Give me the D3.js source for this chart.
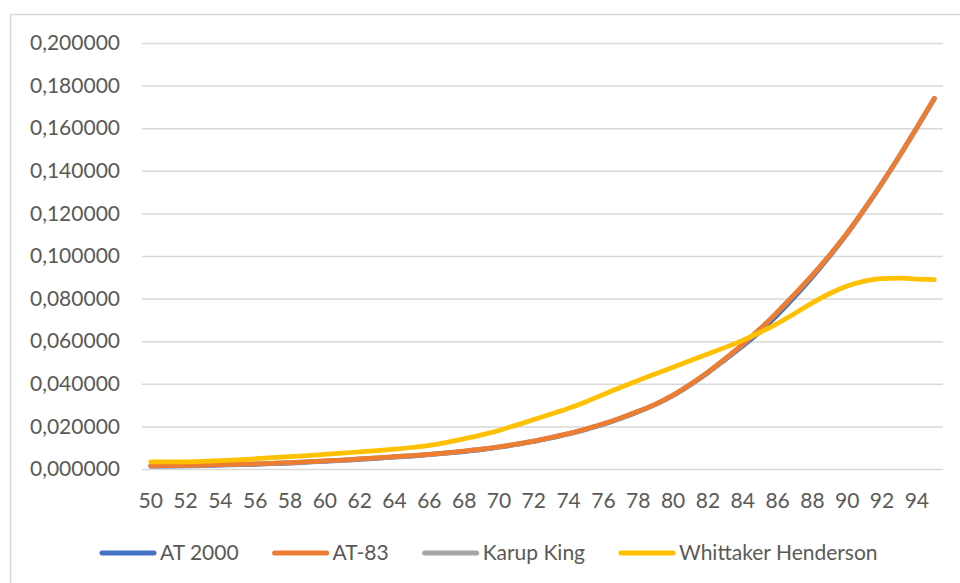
<!DOCTYPE html>
<html>
<head>
<meta charset="utf-8">
<script src="https://cdn.jsdelivr.net/npm/d3@7"></script>
<style>
  html, body { margin: 0; padding: 0; background: #fff; }
  svg { display: block; }
  text { font-family: Lato, "Open Sans", sans-serif; fill: #595959; }
</style>
</head>
<body>
<svg id="chart" width="960" height="583"></svg>
<script>
// Ages on the category axis
const ages = [50,51,52,53,54,55,56,57,58,59,60,61,62,63,64,65,66,67,68,69,70,71,72,73,74,75,76,77,78,79,80,81,82,83,84,85,86,87,88,89,90,91,92,93,94,95];

// Mortality rates q(x) per table
const at2000 = [0.0013,0.0014,0.0015,0.0016,0.0018,0.0020,0.0022,0.0025,0.0028,0.0032,0.0036,0.0040,0.0045,0.0050,0.0056,0.0061,0.0067,0.0074,0.0082,0.0091,0.0102,0.0115,0.0129,0.0146,0.0164,0.0186,0.0210,0.0238,0.0269,0.0303,0.0345,0.0396,0.0452,0.0514,0.0578,0.0646,0.0724,0.0810,0.0902,0.1000,0.1105,0.1220,0.1341,0.1469,0.1602,0.1738];
const at83 = [0.0015,0.0016,0.0017,0.0018,0.0020,0.0022,0.0024,0.0027,0.0030,0.0034,0.0038,0.0042,0.0047,0.0052,0.0058,0.0063,0.0069,0.0076,0.0084,0.0093,0.0104,0.0117,0.0131,0.0148,0.0166,0.0188,0.0212,0.0240,0.0271,0.0305,0.0347,0.0398,0.0455,0.0518,0.0585,0.0658,0.0738,0.0822,0.0910,0.1005,0.1108,0.1222,0.1343,0.1470,0.1603,0.1740];
const karupKing = [0.0015,0.0016,0.0017,0.0018,0.0020,0.0022,0.0024,0.0027,0.0030,0.0034,0.0038,0.0042,0.0047,0.0052,0.0058,0.0063,0.0069,0.0076,0.0084,0.0093,0.0104,0.0117,0.0131,0.0148,0.0166,0.0188,0.0212,0.0240,0.0271,0.0305,0.0347,0.0398,0.0455,0.0518,0.0585,0.0658,0.0738,0.0822,0.0910,0.1005,0.1108,0.1222,0.1343,0.1470,0.1603,0.1740];
const whittakerHenderson = [0.0033,0.0033,0.0034,0.0036,0.0039,0.0043,0.0048,0.0053,0.0058,0.0063,0.0069,0.0075,0.0080,0.0086,0.0093,0.0101,0.0111,0.0125,0.0142,0.0160,0.0181,0.0206,0.0232,0.0258,0.0285,0.0316,0.0350,0.0384,0.0416,0.0447,0.0478,0.0509,0.0540,0.0571,0.0604,0.0642,0.0684,0.0731,0.0780,0.0824,0.0859,0.0882,0.0894,0.0896,0.0892,0.0889];

// Series names and colours, in legend order
const seriesNames = ["AT 2000", "AT-83", "Karup King", "Whittaker Henderson"];
const seriesColors = ["#4472C4", "#ED7D31", "#A5A5A5", "#FFC000"];
const seriesValues = [at2000, at83, karupKing, whittakerHenderson];

// Y tick values
const yTicks = [0, 0.02, 0.04, 0.06, 0.08, 0.10, 0.12, 0.14, 0.16, 0.18, 0.20];

const svg = d3.select("#chart");
const ptBr = d3.formatLocale({ decimal: ",", thousands: ".", grouping: [3], currency: ["", ""] });
const fmt = ptBr.format(".6f");

// Chart frame
svg.append("rect")
  .attr("x", 10.5).attr("y", 14.5)
  .attr("width", 1000).attr("height", 1000)
  .attr("fill", "none").attr("stroke", "#D9D9D9").attr("stroke-width", 1.5);

const plot = { left: 142, right: 943, top: 43, bottom: 469 };

const x = d3.scaleBand().domain(ages).range([plot.left, plot.right]).paddingInner(0).paddingOuter(0);
const xc = a => x(a) + x.bandwidth() / 2;
const y = d3.scaleLinear().domain([0, 0.2]).range([plot.bottom, plot.top]);

// Horizontal gridlines and Y labels
const yAxis = d3.axisLeft(y).tickValues(yTicks).tickFormat(fmt)
  .tickSize(-(plot.right - plot.left)).tickPadding(22);
const gy = svg.append("g").attr("transform", `translate(${plot.left},0)`).call(yAxis);
gy.select(".domain").remove();
gy.selectAll(".tick line").attr("stroke", "#D9D9D9").attr("stroke-width", 1.5);
gy.selectAll(".tick text").attr("font-size", 21).attr("fill", "#595959")
  .style("font-family", "Lato, sans-serif");

// X labels every second age
const xAxis = d3.axisBottom(x).tickValues(ages.filter((a, i) => i % 2 === 0)).tickSize(0).tickPadding(24);
const gx = svg.append("g").attr("transform", `translate(0,${plot.bottom})`).call(xAxis);
gx.select(".domain").remove();
gx.selectAll(".tick text").attr("font-size", 21).attr("fill", "#595959")
  .style("font-family", "Lato, sans-serif");

// Lines
const line = d3.line()
  .defined(d => d != null)
  .x((d, i) => xc(ages[i]))
  .y(d => y(d))
  .curve(d3.curveMonotoneX);

const drawOrder = [0, 2, 1, 3];
drawOrder.forEach(k => {
  svg.append("path")
    .datum(seriesValues[k])
    .attr("fill", "none")
    .attr("stroke", seriesColors[k])
    .attr("stroke-width", 4.75)
    .attr("stroke-linecap", "round")
    .attr("stroke-linejoin", "round")
    .attr("d", line);
});

// Legend
const legend = svg.append("g").attr("transform", "translate(100,553)");
let cursor = 0;
seriesNames.forEach((name, i) => {
  const g = legend.append("g").attr("transform", `translate(${cursor},0)`);
  g.append("line").attr("x1", 2).attr("x2", 54).attr("y1", 0).attr("y2", 0)
    .attr("stroke", seriesColors[i]).attr("stroke-width", 5).attr("stroke-linecap", "round");
  const t = g.append("text").attr("x", 60).attr("y", 0).attr("dy", "0.35em")
    .attr("font-size", 21).text(name);
  cursor += 60 + t.node().getComputedTextLength() + 34;
});
</script>
</body>
</html>
